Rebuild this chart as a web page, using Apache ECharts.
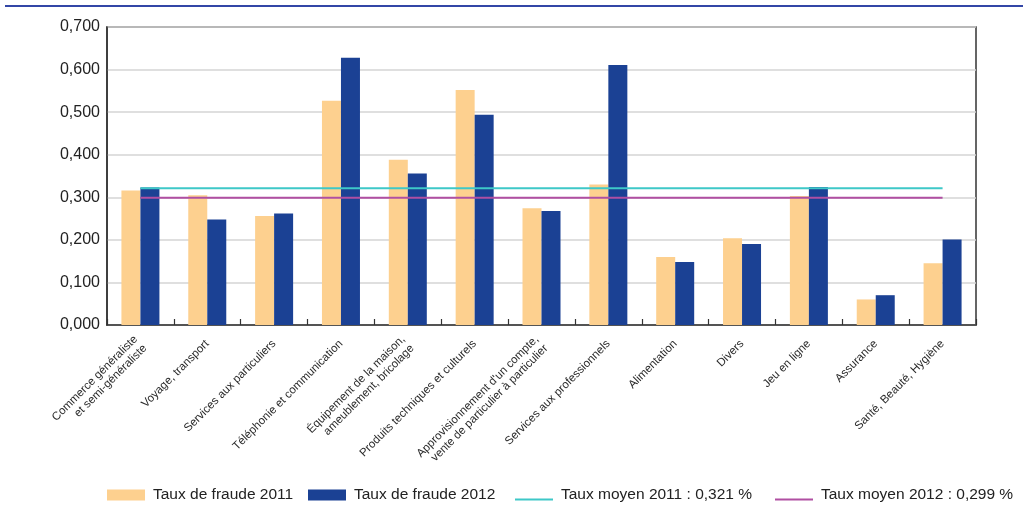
<!DOCTYPE html>
<html>
<head>
<meta charset="utf-8">
<script src="https://cdn.jsdelivr.net/npm/echarts@6/dist/echarts.min.js"></script>
<style>
html,body{margin:0;padding:0;background:#fff;}
#chart{width:1023px;height:506px;}
</style>
</head>
<body>
<div id="chart"></div>
<script>
var categories = [
  "Commerce généraliste\net semi-généraliste",
  "Voyage, transport",
  "Services aux particuliers",
  "Téléphonie et communication",
  "Équipement de la maison,\nameublement, bricolage",
  "Produits techniques et culturels",
  "Approvisionnement d'un compte,\nvente de particulier à particulier",
  "Services aux professionnels",
  "Alimentation",
  "Divers",
  "Jeu en ligne",
  "Assurance",
  "Santé, Beauté, Hygiène"
];
var fraude2011 = [0.316, 0.305, 0.256, 0.527, 0.388, 0.552, 0.274, 0.330, 0.160, 0.204, 0.303, 0.060, 0.145];
var fraude2012 = [0.323, 0.248, 0.262, 0.628, 0.356, 0.494, 0.268, 0.611, 0.148, 0.190, 0.324, 0.070, 0.201];
var moyen2011 = [0.321, 0.321, 0.321, 0.321, 0.321, 0.321, 0.321, 0.321, 0.321, 0.321, 0.321, 0.321, 0.321];
var moyen2012 = [0.299, 0.299, 0.299, 0.299, 0.299, 0.299, 0.299, 0.299, 0.299, 0.299, 0.299, 0.299, 0.299];
var seriesNames = ["Taux de fraude 2011", "Taux de fraude 2012", "Taux moyen 2011 : 0,321 %", "Taux moyen 2012 : 0,299 %"];

var FONT = "'Liberation Sans', Arial, sans-serif";
var COLORS = ['#fdd08f', '#1b4194', '#3ec8c8', '#b04fa2'];
var legendLeft = [107, 308, 515, 775];
var LINE_ICON = 'path://M0,0 L38,0 M0,9.5 L38,9.5 L38,11.5 L0,11.5 Z';

function makeLegend(i) {
  return {
    data: [{name: seriesNames[i], icon: i < 2 ? 'rect' : LINE_ICON}],
    left: legendLeft[i], top: 487, padding: 0,
    itemWidth: 38, itemHeight: 11, symbolKeepAspect: false,
    itemStyle: {borderWidth: 0},
    textStyle: {fontFamily: FONT, fontSize: 15.5, color: '#222', padding: [0, 0, 0, 3]}
  };
}

var chart = echarts.init(document.getElementById('chart'), null, {renderer: 'canvas'});
chart.setOption({
  animation: false,
  textStyle: {fontFamily: FONT},
  graphic: [{
    type: 'line',
    shape: {x1: 5, y1: 6, x2: 1023, y2: 6},
    style: {stroke: '#3346a6', lineWidth: 2}
  }],
  grid: {
    left: 107, right: 47, top: 27, bottom: 181,
    show: true, borderColor: '#333', borderWidth: 1.5, backgroundColor: 'transparent'
  },
  legend: [makeLegend(0), makeLegend(1), makeLegend(2), makeLegend(3)],
  xAxis: {
    type: 'category',
    data: categories,
    axisLine: {lineStyle: {color: '#333', width: 1.5}},
    axisTick: {show: true, inside: true, length: 6, lineStyle: {color: '#333', width: 1.2}},
    axisLabel: {
      interval: 0, rotate: 45, fontFamily: FONT, fontSize: 11.5, color: '#2a2a2a',
      align: 'right', margin: 17, lineHeight: 13
    }
  },
  yAxis: {
    type: 'value', min: 0, max: 0.7, interval: 0.1,
    axisLine: {show: true, lineStyle: {color: '#333', width: 1.5}},
    axisTick: {show: false},
    splitLine: {lineStyle: {color: '#d4d4d4', width: 1.5}},
    axisLabel: {
      fontFamily: FONT, fontSize: 16, color: '#222', margin: 7,
      formatter: function (v) { return v.toFixed(3).replace('.', ','); }
    }
  },
  series: [
    {name: seriesNames[0], type: 'bar', data: fraude2011, barWidth: 19, barGap: '0%',
      itemStyle: {color: COLORS[0]}},
    {name: seriesNames[1], type: 'bar', data: fraude2012, barWidth: 19,
      itemStyle: {color: COLORS[1]}},
    {name: seriesNames[2], type: 'line', data: moyen2011, symbol: 'none',
      lineStyle: {color: COLORS[2], width: 2}, itemStyle: {color: COLORS[2]}, z: 5},
    {name: seriesNames[3], type: 'line', data: moyen2012, symbol: 'none',
      lineStyle: {color: COLORS[3], width: 2}, itemStyle: {color: COLORS[3]}, z: 5}
  ]
});
</script>
</body>
</html>
